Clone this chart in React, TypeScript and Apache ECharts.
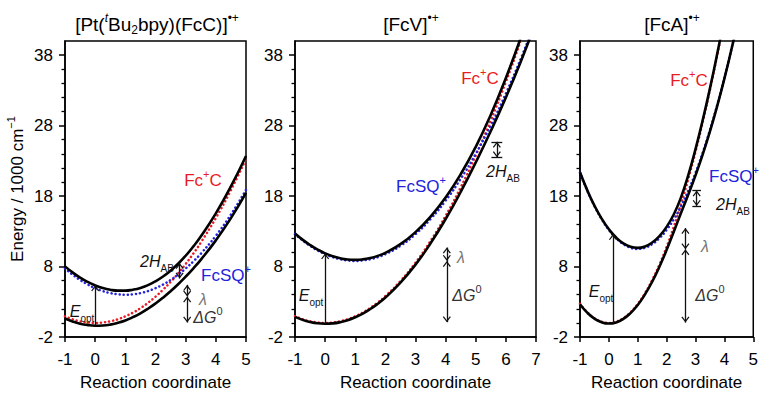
import React, { useEffect, useRef } from 'react';
import * as echarts from 'echarts';

const FONT = '"Liberation Sans", Arial, Helvetica, sans-serif';
const RED = '#e81c24';
const BLUE = '#2323dc';

// ---- Panel 1: [Pt(tBu2bpy)(FcC)]•+
const x1 = [-1, -0.75, -0.5, -0.25, 0, 0.25, 0.5, 0.75, 1, 1.25, 1.5, 1.75, 2, 2.25, 2.5, 2.75, 3, 3.25, 3.5, 4, 4.5, 5];
const red1 = [0.93, 0.52, 0.23, 0.06, 0, 0.06, 0.23, 0.52, 0.93, 1.45, 2.09, 2.85, 3.72, 4.71, 5.81, 7.03, 8.37, 9.82, 11.39, 14.88, 18.83, 23.25];
const blue1 = [7.72, 6.85, 6.09, 5.45, 4.93, 4.52, 4.23, 4.06, 4.0, 4.06, 4.23, 4.52, 4.93, 5.45, 6.09, 6.85, 7.72, 8.71, 9.81, 12.37, 15.39, 18.88];
const upper1 = [8.02, 7.17, 6.43, 5.82, 5.33, 4.95, 4.7, 4.58, 4.58, 4.71, 4.96, 5.36, 5.9, 6.58, 7.41, 8.39, 9.53, 10.82, 12.25, 15.54, 19.36, 23.69];
const lower1 = [0.63, 0.21, -0.11, -0.31, -0.4, -0.37, -0.24, 0.01, 0.35, 0.81, 1.36, 2.01, 2.75, 3.58, 4.5, 5.49, 6.56, 7.71, 8.95, 11.71, 14.86, 18.44];

// ---- Panel 2: [FcV]•+
const x2 = [-1, -0.75, -0.5, -0.25, 0, 0.25, 0.5, 0.75, 1, 1.25, 1.5, 1.75, 2, 2.5, 3, 3.5, 4, 4.5, 5, 5.5, 6, 6.5, 7];
const red2 = [0.95, 0.53, 0.24, 0.06, 0, 0.06, 0.24, 0.53, 0.95, 1.48, 2.14, 2.91, 3.8, 5.94, 8.55, 11.64, 15.2, 19.24, 23.75, 28.74, 34.2, 40.14, 46.55];
const blue2 = [12.6, 11.71, 10.94, 10.28, 9.75, 9.33, 9.04, 8.86, 8.8, 8.86, 9.04, 9.33, 9.75, 10.94, 12.6, 14.74, 17.35, 20.44, 24.0, 28.04, 32.55, 37.54, 43.0];
const upper2 = [12.7, 11.82, 11.05, 10.4, 9.87, 9.46, 9.17, 9.0, 8.95, 9.02, 9.21, 9.52, 9.95, 11.17, 12.88, 15.09, 17.81, 21.09, 24.98, 29.54, 34.75, 40.54, 46.86];
const lower2 = [0.85, 0.43, 0.13, -0.06, -0.12, -0.07, 0.1, 0.39, 0.8, 1.32, 1.97, 2.73, 3.6, 5.71, 8.27, 11.29, 14.74, 18.59, 22.77, 27.23, 32.0, 37.14, 42.69];

// ---- Panel 3: [FcA]•+
const x3 = [-1, -0.75, -0.5, -0.25, 0, 0.25, 0.5, 0.75, 1, 1.25, 1.5, 1.75, 2, 2.25, 2.5, 2.75, 3, 3.25, 3.5, 3.75, 4, 4.25, 4.5];
const red3 = [2.7, 1.52, 0.68, 0.17, 0, 0.17, 0.68, 1.52, 2.7, 4.22, 6.08, 8.27, 10.8, 13.67, 16.88, 20.42, 24.3, 28.52, 33.08, 37.97, 43.2, 48.77, 54.68];
const blue3 = [21.3, 18.77, 16.58, 14.72, 13.2, 12.02, 11.18, 10.67, 10.5, 10.67, 11.18, 12.02, 13.2, 14.72, 16.58, 18.77, 21.3, 24.17, 27.38, 30.92, 34.8, 39.02, 43.58];
const upper3 = [21.37, 18.84, 16.65, 14.8, 13.29, 12.12, 11.29, 10.8, 10.65, 10.85, 11.4, 12.32, 13.63, 15.41, 17.84, 20.97, 24.66, 28.78, 33.28, 38.14, 43.34, 48.89, 54.78];
const lower3 = [2.64, 1.45, 0.6, 0.09, -0.09, 0.07, 0.56, 1.39, 2.55, 4.04, 5.85, 7.97, 10.37, 12.98, 15.62, 18.22, 20.94, 23.91, 27.17, 30.75, 34.66, 38.9, 43.47];

// axis ticks
const yMajor = [-2, 8, 18, 28, 38];
const yMinor = [0, 2, 4, 6, 10, 12, 14, 16, 20, 22, 24, 26, 30, 32, 34, 36];
const xMax = [5, 7, 5];

// annotation arrows: [x, yFrom, yTo, headAtFrom, headAtTo]
const arrows1 = [[0, -0.4, 5.33, 0, 1], [2.8, 6.3, 8.5, 1, 1], [3.05, 3.75, 5.4, 1, 1], [3.05, 0.05, 3.75, 1, 1]];
const arrows2 = [[0, -0.12, 9.87, 0, 1], [5.7, 23.5, 25.7, 1, 1], [4.04, 8.8, 10.7, 1, 1], [4.04, 0.1, 8.8, 1, 1]];
const arrows3 = [[0.14, -0.05, 12.6, 0, 1], [3.04, 16.6, 18.8, 1, 1], [2.65, 10.46, 13.46, 1, 1], [2.65, 0.04, 10.46, 1, 1]];
// caps: [x, y, halfWidth]
const caps2 = [[5.7, 23.5, 0.18], [5.7, 25.7, 0.18]];
const caps3 = [[3.04, 16.6, 0.15], [3.04, 18.8, 0.15]];

const ARROW = 'path://M4.5,-6.8L4.51,-6.8L4.5,-6.79Z M4.5,0L9,6L7.9,6.8L4.5,2.3L1.1,6.8L0,6Z';

const base = { fontFamily: FONT, lineHeight: 24, verticalAlign: 'middle' };
const small = (size: number, va: string, fill: string, italic = false) => ({
  fontFamily: FONT, fontSize: size, verticalAlign: va, fill, color: fill, fontStyle: italic ? 'italic' : 'normal',
});
const RICH: any = {
  t: { ...base, fontSize: 19, fill: '#000', color: '#000' },
  tsi: small(12, 'top', '#000', true),
  tsb: small(12, 'bottom', '#000'),
  tsp: small(12, 'top', '#000'),
  r: { ...base, fontSize: 17, fill: RED, color: RED },
  rs: small(11, 'top', RED),
  b: { ...base, fontSize: 17, fill: BLUE, color: BLUE },
  bs: small(11, 'top', BLUE),
  i: { ...base, fontSize: 16, fontStyle: 'italic', fill: '#111', color: '#111' },
  sb: small(10, 'bottom', '#111'),
  g: { ...base, fontSize: 16, fontStyle: 'italic', fill: '#777', color: '#777' },
  d: { ...base, fontSize: 16, fontStyle: 'italic', fill: '#333', color: '#333' },
  sp: small(11, 'top', '#333'),
};

const txt = (x: number, y: number, text: string) => ({
  type: 'text', x, y, silent: true, z: 100,
  style: { text, align: 'center', verticalAlign: 'middle', fontFamily: FONT, fontSize: 17, rich: RICH },
});

const grids = [
  { left: 65, top: 41, width: 181, height: 302 },
  { left: 295, top: 41, width: 241, height: 302 },
  { left: 580, top: 41, width: 180, height: 302 },
];

const zip = (xs: number[], ys: number[]) => xs.map((x, i) => [x, ys[i]]);

function markLines(arrows: number[][], caps: number[][]) {
  const data: any[] = [];
  arrows.forEach(([x, y0, y1, h0, h1]) => {
    data.push([
      { coord: [x, y0], symbol: h0 ? ARROW : 'none' },
      { coord: [x, y1], symbol: h1 ? ARROW : 'none' },
    ]);
  });
  caps.forEach(([x, y, w]) => {
    data.push([
      { coord: [x - w, y], symbol: 'none' },
      { coord: [x + w, y], symbol: 'none' },
    ]);
  });
  return {
    silent: true,
    symbol: ['none', 'none'],
    symbolSize: [8, 12],
    label: { show: false },
    lineStyle: { color: '#111', width: 1.3, type: 'solid' },
    emphasis: { disabled: true },
    data,
  };
}

function panelSeries(i: number, xs: number[], red: number[], blue: number[], up: number[], low: number[], arrows: number[][], caps: number[][]) {
  const common = { type: 'line', xAxisIndex: i, yAxisIndex: 2 * i, smooth: true, symbol: 'none', silent: true };
  return [
    { ...common, name: 'Fc+C', data: zip(xs, red), lineStyle: { color: RED, width: 2.5, type: [0.1, 4], cap: 'round' } },
    { ...common, name: 'FcSQ+', data: zip(xs, blue), lineStyle: { color: BLUE, width: 2.5, type: [0.1, 4], cap: 'round' } },
    { ...common, name: 'lower', data: zip(xs, low), lineStyle: { color: '#000', width: 2.6 } },
    { ...common, name: 'upper', data: zip(xs, up), lineStyle: { color: '#000', width: 2.6 }, markLine: markLines(arrows, caps) },
  ];
}

const axisFont = { fontFamily: FONT, fontSize: 17, color: '#000' };

export default function App() {
  const ref = useRef<HTMLDivElement>(null);
  useEffect(() => {
    document.body.style.margin = '0';
    const chart = echarts.init(ref.current!, null, { renderer: 'svg' });
    const xAxis = grids.map((_, i) => ({
      gridIndex: i, type: 'value', min: -1, max: xMax[i], interval: 1,
      axisLine: { onZero: false, lineStyle: { color: '#000', width: 1.5 } },
      axisTick: { length: 5, lineStyle: { color: '#000', width: 1.5 } },
      axisLabel: { ...axisFont, margin: 14 },
      splitLine: { show: false },
      name: 'Reaction coordinate', nameLocation: 'middle', nameGap: 37,
      nameTextStyle: { ...axisFont },
    }));
    const yAxis: any[] = [];
    grids.forEach((_, i) => {
      yAxis.push({
        gridIndex: i, type: 'value', min: -2, max: 40, position: 'left',
        axisLine: { show: true, onZero: false, lineStyle: { color: '#000', width: 1.5 } },
        axisTick: { show: true, length: 6, customValues: yMajor, lineStyle: { color: '#000', width: 1.5 } },
        axisLabel: { ...axisFont, margin: 12, customValues: yMajor },
        splitLine: { show: false },
        ...(i === 0 ? {
          name: 'Energy / 1000 cm{sup|−1}', nameLocation: 'middle', nameGap: 36, nameRotate: 90,
          nameTextStyle: { ...axisFont, lineHeight: 24, rich: { sup: { fontFamily: FONT, fontSize: 11, color: '#000', verticalAlign: 'top' } } },
        } : {}),
      });
      yAxis.push({
        gridIndex: i, type: 'value', min: -2, max: 40, position: 'left', offset: 0,
        axisLine: { show: false, onZero: false },
        axisTick: { show: true, length: 3.5, customValues: yMinor, lineStyle: { color: '#000', width: 1.3 } },
        axisLabel: { show: false },
        splitLine: { show: false },
      });
    });
    const option: any = {
      animation: false,
      grid: grids.map((g) => ({ ...g, show: true, borderColor: '#000', borderWidth: 1.5, backgroundColor: 'transparent' })),
      xAxis,
      yAxis,
      series: [
        ...panelSeries(0, x1, red1, blue1, upper1, lower1, arrows1, []),
        ...panelSeries(1, x2, red2, blue2, upper2, lower2, arrows2, caps2),
        ...panelSeries(2, x3, red3, blue3, upper3, lower3, arrows3, caps3),
      ],
      graphic: [
        txt(157, 24, '{t|[Pt(}{tsi|t}{t|Bu}{tsb|2}{t|bpy)(FcC)]}{tsp|•+}'),
        txt(411, 24, '{t|[FcV]}{tsp|•+}'),
        txt(672, 24, '{t|[FcA]}{tsp|•+}'),
        // panel 1
        txt(203, 180, '{r|Fc}{rs|+}{r|C}'),
        txt(226, 275, '{b|FcSQ}{bs|+}'),
        txt(157, 261, '{i|2H}{sb|AB}'),
        txt(82, 311, '{i|E}{sb|opt}'),
        txt(203, 299, '{g|λ}'),
        txt(208, 317, '{d|ΔG}{sp|0}'),
        // panel 2
        txt(480, 78, '{r|Fc}{rs|+}{r|C}'),
        txt(421, 186, '{b|FcSQ}{bs|+}'),
        txt(503, 171, '{i|2H}{sb|AB}'),
        txt(311, 295, '{i|E}{sb|opt}'),
        txt(461, 257, '{g|λ}'),
        txt(467, 295, '{d|ΔG}{sp|0}'),
        // panel 3
        txt(689, 80, '{r|Fc}{rs|+}{r|C}'),
        txt(734, 176, '{b|FcSQ}{bs|+}'),
        txt(733, 204, '{i|2H}{sb|AB}'),
        txt(601, 291, '{i|E}{sb|opt}'),
        txt(705, 246, '{g|λ}'),
        txt(710, 295, '{d|ΔG}{sp|0}'),
      ],
    };
    chart.setOption(option);
    return () => chart.dispose();
  }, []);
  return <div ref={ref} style={{ position: 'absolute', left: 0, top: 0, width: 761, height: 396 }} />;
}
